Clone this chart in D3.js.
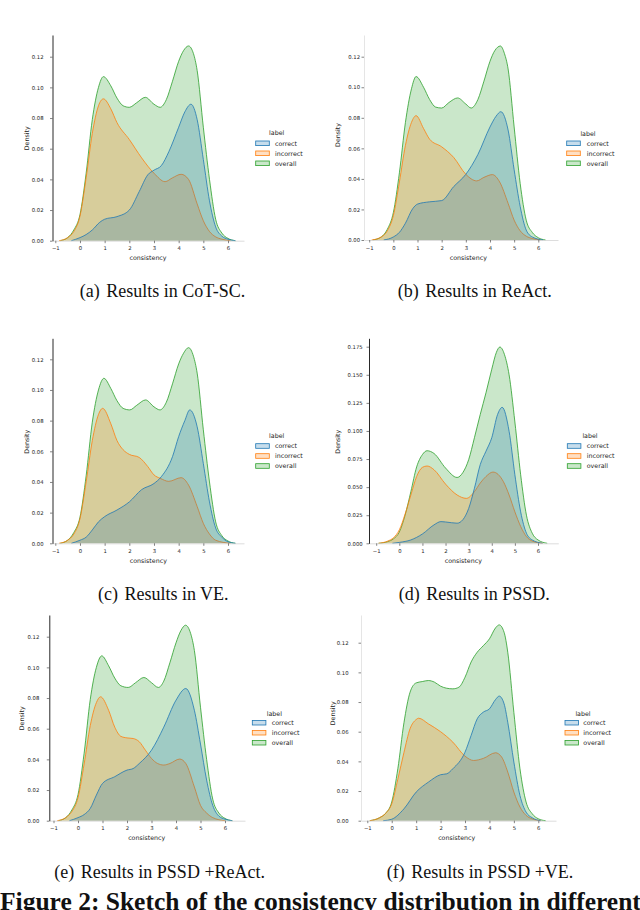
<!DOCTYPE html>
<html>
<head>
<meta charset="utf-8">
<script src="https://cdn.jsdelivr.net/npm/d3@7"></script>
<style>
body { margin: 0; background: #fff; }
svg { display: block; }
</style>
</head>
<body>
<script>
// density curves: [consistency, density]
var cotCorrect = [[-0.35,0],[0,0.002],[0.25,0.004],[0.5,0.007],[0.8,0.012],[1.0,0.014],[1.5,0.0157],[2.0,0.020],[2.4,0.032],[2.75,0.043],[3.0,0.046],[3.3,0.049],[3.6,0.058],[4.0,0.074],[4.25,0.084],[4.5,0.089],[4.75,0.079],[5.0,0.053],[5.25,0.026],[5.5,0.009],[5.75,0.003],[6.0,0.001],[6.3,0]];
var cotIncorrect = [[-0.85,0],[-0.5,0.002],[-0.25,0.006],[0,0.016],[0.25,0.041],[0.5,0.070],[0.75,0.088],[0.95,0.0925],[1.25,0.086],[1.5,0.077],[2.0,0.066],[2.5,0.054],[3.0,0.044],[3.45,0.0385],[3.75,0.041],[4.1,0.0433],[4.4,0.040],[4.75,0.024],[5.0,0.013],[5.25,0.006],[5.5,0.0025],[5.75,0.001],[6.1,0]];
var cotOverall = [[-0.8,0],[-0.5,0.002],[-0.25,0.007],[0,0.017],[0.25,0.044],[0.5,0.079],[0.75,0.100],[0.95,0.107],[1.25,0.101],[1.5,0.093],[1.75,0.088],[2.0,0.087],[2.3,0.090],[2.65,0.0935],[3.0,0.089],[3.25,0.087],[3.5,0.092],[3.75,0.104],[4.0,0.117],[4.2,0.124],[4.4,0.127],[4.6,0.122],[4.75,0.111],[5.0,0.074],[5.25,0.040],[5.5,0.014],[5.75,0.005],[6.0,0.0015],[6.3,0]];

var reactCorrect = [[-0.4,0],[0,0.002],[0.25,0.005],[0.5,0.011],[0.8,0.0205],[1.0,0.0235],[1.5,0.025],[2.0,0.0258],[2.5,0.035],[3.0,0.043],[3.5,0.056],[4.0,0.074],[4.25,0.081],[4.45,0.084],[4.75,0.072],[5.0,0.046],[5.25,0.022],[5.5,0.0065],[5.75,0.002],[6.2,0]];
var reactIncorrect = [[-0.9,0],[-0.5,0.002],[-0.25,0.006],[0,0.016],[0.25,0.038],[0.5,0.062],[0.75,0.077],[0.94,0.0814],[1.25,0.073],[1.5,0.066],[2.0,0.061],[2.5,0.054],[3.0,0.043],[3.45,0.0387],[3.75,0.041],[4.1,0.0428],[4.4,0.038],[4.75,0.024],[5.0,0.013],[5.25,0.006],[5.5,0.0025],[5.75,0.001],[6.1,0]];
var reactOverall = [[-0.85,0],[-0.5,0.002],[-0.25,0.007],[0,0.018],[0.25,0.044],[0.5,0.077],[0.75,0.099],[0.94,0.107],[1.25,0.100],[1.5,0.092],[1.75,0.087],[2.0,0.0864],[2.3,0.090],[2.66,0.093],[3.0,0.089],[3.22,0.0864],[3.5,0.092],[3.75,0.104],[4.0,0.117],[4.2,0.124],[4.43,0.127],[4.6,0.122],[4.75,0.112],[5.0,0.074],[5.25,0.037],[5.5,0.013],[5.75,0.005],[6.0,0.0015],[6.3,0]];

var veCorrect = [[-0.35,0],[0,0.002],[0.25,0.004],[0.5,0.0087],[0.75,0.014],[1.0,0.0174],[1.5,0.0217],[2.0,0.027],[2.5,0.035],[3.0,0.039],[3.3,0.0435],[3.75,0.0565],[4.0,0.0696],[4.25,0.080],[4.45,0.087],[4.75,0.076],[5.0,0.052],[5.25,0.027],[5.5,0.010],[5.75,0.004],[6.0,0.001],[6.3,0]];
var veIncorrect = [[-0.85,0],[-0.5,0.002],[-0.25,0.006],[0,0.016],[0.25,0.040],[0.5,0.067],[0.75,0.084],[0.92,0.088],[1.25,0.078],[1.5,0.067],[1.75,0.061],[2.0,0.058],[2.4,0.056],[2.75,0.050],[3.0,0.0446],[3.25,0.0424],[3.6,0.0404],[4.1,0.0428],[4.4,0.038],[4.75,0.024],[5.0,0.013],[5.25,0.006],[5.5,0.002],[6.1,0]];
var veOverall = [[-0.8,0],[-0.5,0.002],[-0.25,0.007],[0,0.017],[0.25,0.044],[0.5,0.079],[0.75,0.100],[0.97,0.1076],[1.25,0.101],[1.5,0.093],[1.75,0.088],[2.02,0.087],[2.3,0.090],[2.66,0.0935],[3.0,0.089],[3.24,0.087],[3.5,0.092],[3.75,0.104],[4.0,0.117],[4.2,0.124],[4.4,0.1276],[4.6,0.122],[4.75,0.111],[5.0,0.074],[5.25,0.040],[5.5,0.014],[5.75,0.005],[6.0,0.0015],[6.3,0]];

var pssdCorrect = [[-0.3,0],[0,0.0008],[0.5,0.003],[1.0,0.0083],[1.5,0.0164],[1.8,0.0193],[2.0,0.019],[2.5,0.0179],[2.75,0.021],[3.0,0.031],[3.25,0.049],[3.5,0.070],[3.75,0.082],[4.0,0.094],[4.25,0.1146],[4.45,0.121],[4.75,0.0997],[5.0,0.061],[5.25,0.028],[5.5,0.009],[5.75,0.003],[6.2,0]];
var pssdIncorrect = [[-0.9,0],[-0.5,0.002],[-0.25,0.005],[0,0.012],[0.25,0.026],[0.5,0.043],[0.75,0.0595],[1.0,0.0676],[1.2,0.0688],[1.5,0.0655],[2.0,0.0527],[2.5,0.043],[2.9,0.040],[3.25,0.046],[3.5,0.0536],[3.75,0.0595],[4.05,0.0634],[4.5,0.055],[4.75,0.043],[5.0,0.028],[5.25,0.015],[5.5,0.006],[5.75,0.002],[6.2,0]];
var pssdOverall = [[-0.9,0],[-0.5,0.0015],[-0.25,0.004],[0,0.010],[0.25,0.025],[0.5,0.046],[0.75,0.068],[1.0,0.079],[1.2,0.0824],[1.5,0.080],[2.0,0.067],[2.5,0.0586],[2.75,0.063],[3.0,0.0744],[3.25,0.094],[3.5,0.1146],[3.75,0.134],[4.0,0.155],[4.2,0.170],[4.35,0.1747],[4.55,0.168],[4.75,0.150],[5.0,0.108],[5.25,0.061],[5.5,0.025],[5.75,0.009],[6.0,0.003],[6.4,0]];

var pssdReactCorrect = [[-0.35,0],[0,0.002],[0.25,0.004],[0.5,0.008],[0.75,0.0167],[1.0,0.0243],[1.5,0.0287],[2.0,0.033],[2.25,0.034],[2.5,0.0373],[3.0,0.046],[3.5,0.061],[4.0,0.0786],[4.4,0.0862],[4.75,0.072],[5.0,0.050],[5.25,0.0265],[5.5,0.010],[5.75,0.003],[6.0,0.001],[6.3,0]];
var pssdReactIncorrect = [[-0.85,0],[-0.5,0.002],[-0.25,0.006],[0,0.015],[0.25,0.037],[0.5,0.062],[0.75,0.077],[0.92,0.0808],[1.25,0.072],[1.5,0.061],[1.75,0.055],[2.0,0.054],[2.25,0.0536],[2.5,0.0515],[2.75,0.046],[3.0,0.0406],[3.25,0.0373],[3.5,0.0363],[3.75,0.0373],[4.15,0.0402],[4.4,0.0373],[4.75,0.022],[5.0,0.010],[5.25,0.005],[5.5,0.002],[6.0,0]];
var pssdReactOverall = [[-0.8,0],[-0.5,0.002],[-0.25,0.007],[0,0.017],[0.25,0.044],[0.5,0.079],[0.75,0.100],[0.97,0.1075],[1.25,0.101],[1.5,0.093],[1.75,0.088],[2.05,0.0869],[2.35,0.090],[2.69,0.0934],[3.0,0.090],[3.28,0.0869],[3.5,0.091],[3.75,0.103],[4.0,0.116],[4.2,0.124],[4.39,0.1275],[4.6,0.122],[4.75,0.111],[5.0,0.074],[5.25,0.040],[5.5,0.014],[5.75,0.005],[6.0,0.0015],[6.3,0]];

var pssdVeCorrect = [[-0.35,0],[0,0.001],[0.5,0.008],[1.0,0.0193],[1.5,0.026],[2.0,0.031],[2.25,0.0316],[2.5,0.035],[3.0,0.0462],[3.25,0.0575],[3.5,0.0687],[3.75,0.0732],[4.0,0.0754],[4.25,0.0817],[4.4,0.084],[4.6,0.0788],[4.75,0.0664],[5.0,0.0395],[5.25,0.017],[5.5,0.0058],[5.75,0.002],[6.1,0]];
var pssdVeIncorrect = [[-0.9,0],[-0.5,0.002],[-0.25,0.005],[0,0.0114],[0.25,0.028],[0.5,0.046],[0.75,0.062],[1.0,0.0682],[1.1,0.0691],[1.5,0.0653],[2.0,0.060],[2.5,0.053],[3.0,0.0435],[3.35,0.0406],[3.75,0.042],[4.25,0.0458],[4.5,0.0429],[4.75,0.0328],[5.0,0.0193],[5.25,0.0092],[5.5,0.0036],[5.75,0.0012],[6.1,0]];
var pssdVeOverall = [[-0.9,0],[-0.5,0.002],[-0.25,0.005],[0,0.0126],[0.25,0.035],[0.5,0.066],[0.75,0.0866],[1.0,0.0929],[1.25,0.0938],[1.5,0.0945],[1.75,0.0934],[2.0,0.0907],[2.25,0.0893],[2.5,0.0889],[2.75,0.090],[3.0,0.0967],[3.25,0.107],[3.5,0.1136],[3.75,0.118],[4.0,0.1226],[4.25,0.130],[4.4,0.132],[4.6,0.127],[4.75,0.1136],[5.0,0.073],[5.25,0.035],[5.5,0.0126],[5.75,0.0047],[6.0,0.0013],[6.3,0]];

var seriesNames = ["correct", "incorrect", "overall"];
var seriesColors = ["#1f77b4", "#ff7f0e", "#2ca02c"];
var ticksX = [-1, 0, 1, 2, 3, 4, 5, 6];
var ticksY = [0, 0.02, 0.04, 0.06, 0.08, 0.10, 0.12];
var ticksYPssd = [0, 0.025, 0.05, 0.075, 0.1, 0.125, 0.15, 0.175];
var subLabels = ["(a)", "(b)", "(c)", "(d)", "(e)", "(f)"];
var subTitles = ["Results in CoT-SC.", "Results in ReAct.", "Results in VE.", "Results in PSSD.", "Results in PSSD +ReAct.", "Results in PSSD +VE."];
var figCaption = "Figure 2: Sketch of the consistency distribution in different";

var panelData = [
  [cotCorrect, cotIncorrect, cotOverall],
  [reactCorrect, reactIncorrect, reactOverall],
  [veCorrect, veIncorrect, veOverall],
  [pssdCorrect, pssdIncorrect, pssdOverall],
  [pssdReactCorrect, pssdReactIncorrect, pssdReactOverall],
  [pssdVeCorrect, pssdVeIncorrect, pssdVeOverall]
];

// Lage der einzelnen Panels (Pixel)
var layout = [
  {xm1: 55.3, x6: 228, left: 52.5, right: 244, y0: 240.7, refV: 0.12, refY: 56.7, top: 35, pad: 6.5, spine: "#111", ticks: ticksY, fmt: ".2f",
   yLab: [26.7, 138.3], xLab: [148, 259.8], leg: [276.7, 133, 255.7, 275, 143.3], cap: [162.5, 297]},
  {xm1: 369.2, x6: 538.3, left: 364, right: 558, y0: 240, refV: 0.12, refY: 56.7, top: 35, pad: 1.5, spine: "#e2e2e2", ticks: ticksY, fmt: ".2f",
   yLab: [337.3, 135], xLab: [468.3, 259.8], leg: [588, 133.3, 566.7, 586.7, 143.3], cap: [474.8, 297]},
  {xm1: 55.3, x6: 228, left: 52.5, right: 244, y0: 543.3, refV: 0.12, refY: 359.3, top: 338.3, pad: 6.5, spine: "#111", ticks: ticksY, fmt: ".2f",
   yLab: [26.7, 441.7], xLab: [148.3, 562.8], leg: [276.7, 435.7, 255.7, 275, 446], cap: [163.3, 599.5]},
  {xm1: 376.2, x6: 538, left: 369, right: 558.3, y0: 543.3, refV: 0.175, refY: 346.7, top: 338.3, pad: 3.8, spine: "#111", ticks: ticksYPssd, fmt: ".3f",
   yLab: [337.3, 441.7], xLab: [463.3, 562.8], leg: [590, 436, 567.3, 586.7, 446], cap: [474.2, 599.5]},
  {xm1: 53.5, x6: 225, left: 49.3, right: 245, y0: 820.7, refV: 0.12, refY: 636.7, top: 615, pad: 7.5, spine: "#111", ticks: ticksY, fmt: ".2f",
   yLab: [21.7, 718.3], xLab: [146.7, 840.4], leg: [274.3, 713.3, 252.3, 271.7, 722.7], cap: [159.7, 877.5]},
  {xm1: 367.3, x6: 538.3, left: 361, right: 556, y0: 820.7, refV: 0.12, refY: 642.7, top: 615, pad: 10, spine: "#e2e2e2", ticks: ticksY, fmt: ".2f",
   yLab: [332.6, 713.3], xLab: [456.7, 840.4], leg: [583, 713.3, 565, 583.3, 722.7], cap: [480, 877.5]}
];

var svg = d3.select("body").append("svg")
    .attr("width", 640)
    .attr("height", 910)
    .style("background", "#fff");

layout.forEach(function(p, i) {
  var kx = (p.x6 - p.xm1) / 7;
  var x = d3.scaleLinear()
      .domain([-1 + (p.left - p.xm1) / kx, -1 + (p.right - p.xm1) / kx])
      .range([p.left, p.right]);
  var y = d3.scaleLinear()
      .domain([0, p.refV * (p.y0 - p.top) / (p.y0 - p.refY)])
      .range([p.y0, p.top]);

  var g = svg.append("g");

  var area = d3.area().curve(d3.curveMonotoneX)
      .x(function(d) { return x(d[0]); })
      .y0(y(0))
      .y1(function(d) { return y(d[1]); });
  var line = d3.line().curve(d3.curveMonotoneX)
      .x(function(d) { return x(d[0]); })
      .y(function(d) { return y(d[1]); });

  // overall zuerst, correct zuletzt (wie seaborn)
  [2, 1, 0].forEach(function(k) {
    g.append("path").datum(panelData[i][k])
        .attr("d", area)
        .attr("fill", seriesColors[k])
        .attr("fill-opacity", 0.25);
    g.append("path").datum(panelData[i][k])
        .attr("d", line)
        .attr("fill", "none")
        .attr("stroke", seriesColors[k])
        .attr("stroke-width", 0.8);
  });

  // X Achse
  var gx = g.append("g")
      .attr("transform", "translate(0," + p.y0 + ")")
      .call(d3.axisBottom(x).tickValues(ticksX).tickSize(2.5).tickSizeOuter(0).tickPadding(3.3));
  gx.select(".domain").attr("stroke", "#d4d4d4").attr("stroke-width", 0.8);

  // Y Achse
  var gy = g.append("g")
      .attr("transform", "translate(" + p.left + ",0)")
      .call(d3.axisLeft(y).tickValues(p.ticks).tickFormat(d3.format(p.fmt)).tickSize(2.5).tickSizeOuter(0).tickPadding(p.pad));
  gy.select(".domain").attr("stroke", p.spine).attr("stroke-width", 0.9);

  g.selectAll(".tick line").attr("stroke", "#333").attr("stroke-width", 0.6);
  g.selectAll(".tick text")
      .attr("font-family", "DejaVu Sans")
      .attr("font-size", 5.3)
      .attr("fill", "#222");

  // Achsenbeschriftungen
  g.append("text")
      .attr("x", p.xLab[0]).attr("y", p.xLab[1])
      .attr("text-anchor", "middle")
      .attr("font-family", "DejaVu Sans").attr("font-size", 6.3).attr("fill", "#222")
      .text("consistency");
  g.append("text")
      .attr("transform", "translate(" + (p.yLab[0] + 2.2) + "," + p.yLab[1] + ") rotate(-90)")
      .attr("text-anchor", "middle")
      .attr("font-family", "DejaVu Sans").attr("font-size", 6.3).attr("fill", "#222")
      .text("Density");

  // Legende
  var lg = g.append("g");
  lg.append("text")
      .attr("x", p.leg[0]).attr("y", p.leg[1] + 2.2)
      .attr("text-anchor", "middle")
      .attr("font-family", "DejaVu Sans").attr("font-size", 6.3).attr("fill", "#222")
      .text("label");
  seriesNames.forEach(function(name, k) {
    var yy = p.leg[4] + k * 10;
    lg.append("rect")
        .attr("x", p.leg[2]).attr("y", yy - 2.3)
        .attr("width", 13.6).attr("height", 4.6)
        .attr("fill", seriesColors[k]).attr("fill-opacity", 0.25)
        .attr("stroke", seriesColors[k]).attr("stroke-width", 0.8);
    lg.append("text")
        .attr("x", p.leg[3]).attr("y", yy + 2.2)
        .attr("font-family", "DejaVu Sans").attr("font-size", 6.3).attr("fill", "#222")
        .text(name);
  });

  // Unterschrift
  var cap = svg.append("text")
      .attr("x", p.cap[0]).attr("y", p.cap[1])
      .attr("text-anchor", "middle")
      .attr("font-family", "Liberation Serif").attr("font-size", 18).attr("fill", "#111")
      .text(subLabels[i]);
  cap.append("tspan").attr("dx", 2).text(" " + subTitles[i]);
});

// Bildunterschrift, unten abgeschnitten wie im Original
svg.append("text")
    .attr("x", 0).attr("y", 910)
    .attr("font-family", "Liberation Serif").attr("font-weight", "bold")
    .attr("font-size", 25.5).attr("fill", "#111")
    .text(figCaption);
</script>
</body>
</html>
